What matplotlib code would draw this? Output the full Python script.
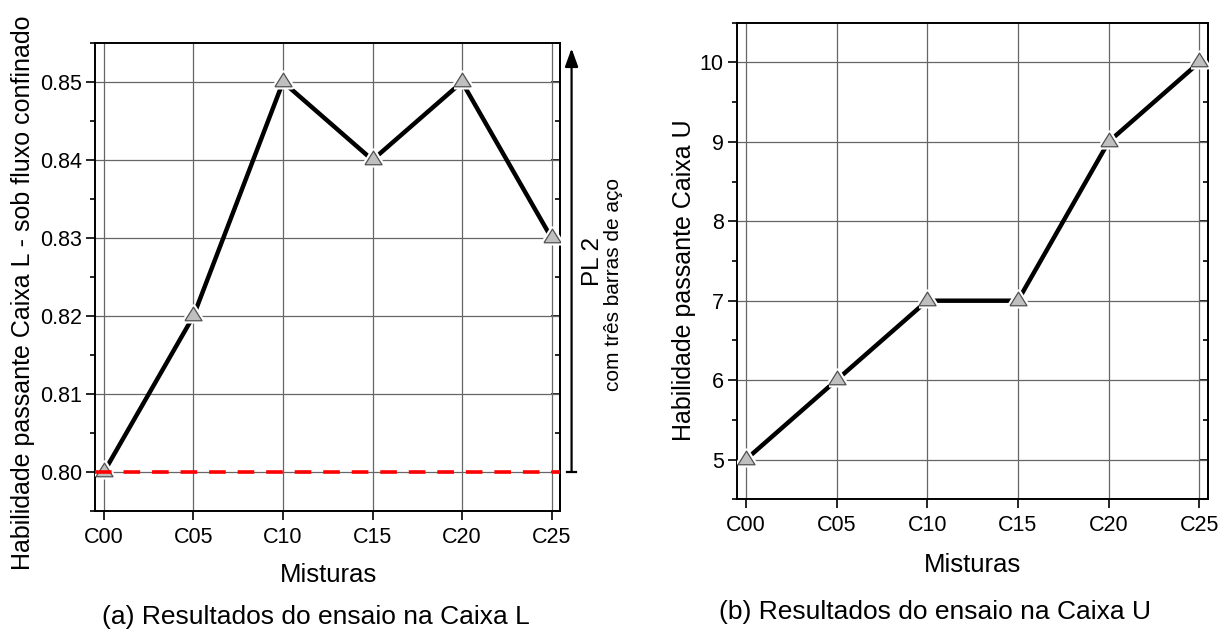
import numpy as np
import matplotlib.pyplot as plt
from matplotlib.ticker import MultipleLocator, FormatStrFormatter
from matplotlib.patches import ArrowStyle

plt.rcParams['font.family'] = ['Liberation Sans', 'DejaVu Sans']

misturas = ['C00', 'C05', 'C10', 'C15', 'C20', 'C25']
caixa_l = [0.80, 0.82, 0.85, 0.84, 0.85, 0.83]
caixa_u = [5, 6, 7, 7, 9, 10]
limite_pl2 = 0.80

x = np.arange(len(misturas))

# triangle a bit flatter than the default '^'
tri = [(-1, -0.5), (1, -0.5), (0, 1.1), (-1, -0.5)]


def style_axes(ax, ylim, major, minor, fmt):
    ax.set_xlim(-0.1, 5.1)
    ax.set_ylim(*ylim)
    ax.set_xticks(x)
    ax.set_xticklabels(misturas)
    ax.yaxis.set_major_locator(MultipleLocator(major))
    ax.yaxis.set_minor_locator(MultipleLocator(minor))
    ax.yaxis.set_major_formatter(FormatStrFormatter(fmt))
    ax.grid(True, which='major', color='0.4', lw=0.9, zorder=1)
    ax.set_axisbelow(True)
    ax.tick_params(axis='both', which='major', direction='out', length=6.5,
                   width=1.2, labelsize=15.5)
    ax.tick_params(axis='y', which='major', pad=3)
    ax.tick_params(axis='x', which='major', pad=5)
    ax.tick_params(axis='y', which='minor', direction='out', length=3.5, width=1.2)
    for s in ax.spines.values():
        s.set_linewidth(1.4)
    # inward ticks on the right edge
    sec = ax.secondary_yaxis('right')
    sec.yaxis.set_major_locator(MultipleLocator(major))
    sec.yaxis.set_minor_locator(MultipleLocator(minor))
    sec.tick_params(which='both', direction='in', labelright=False, width=1.2)
    sec.tick_params(which='major', length=6.5)
    sec.tick_params(which='minor', length=3.5)
    sec.spines['right'].set_linewidth(1.4)


def plot_series(ax, y):
    ax.plot(x, y, color='black', lw=3.2, zorder=3, solid_capstyle='butt')
    ax.plot(x, y, ls='none', marker=tri, ms=13.5, mfc='white', mec='white',
            mew=4, zorder=4)
    ax.plot(x, y, ls='none', marker=tri, ms=13.5, mfc='#bfbfbf', mec='#505050',
            mew=0.9, zorder=5)


fig = plt.figure(figsize=(12.31, 6.35), dpi=100)
ax1 = fig.add_axes([0.0772, 0.1953, 0.3781, 0.737])
ax2 = fig.add_axes([0.5985, 0.2137, 0.3831, 0.7506])

# (a) Caixa L
style_axes(ax1, (0.795, 0.855), 0.01, 0.005, '%.2f')
plot_series(ax1, caixa_l)
ax1.axhline(limite_pl2, color='#ff0000', lw=2.6, ls=(0, (4.6, 3.3)), zorder=6)

# PL 2 bracket arrow on the right side
xa = 5.224
ax1.annotate('', xy=(xa, 0.8543), xytext=(xa, limite_pl2), xycoords='data',
             arrowprops=dict(arrowstyle=ArrowStyle('-|>', head_length=0.55, head_width=0.2),
                             mutation_scale=20, lw=1.6, color='black',
                             shrinkA=0, shrinkB=0),
             annotation_clip=False)
ax1.plot([xa - 0.05, xa + 0.05], [limite_pl2, limite_pl2], color='black', lw=1.6,
         clip_on=False)
ax1.text(5.46, 0.827, 'PL 2', rotation=90, ha='center', va='center', fontsize=17.5)
ax1.text(5.69, 0.824, 'com três barras de aço', rotation=90, ha='center',
         va='center', fontsize=15)

# (b) Caixa U
style_axes(ax2, (4.5, 10.5), 1, 0.5, '%d')
plot_series(ax2, caixa_u)

W, H = 1231, 635
fig.text(23 / W, 1 - 293 / H, 'Habilidade passante Caixa L - sob fluxo confinado',
         rotation=90, ha='center', va='center', fontsize=18)
fig.text(684 / W, 1 - 280 / H, 'Habilidade passante Caixa U',
         rotation=90, ha='center', va='center', fontsize=18)
fig.text(328 / W, 1 - 575 / H, 'Misturas', ha='center', va='center', fontsize=18.5)
fig.text(972 / W, 1 - 565 / H, 'Misturas', ha='center', va='center', fontsize=18.5)
fig.text(316 / W, 1 - 617 / H, '(a) Resultados do ensaio na Caixa L',
         ha='center', va='center', fontsize=19)
fig.text(935 / W, 1 - 612 / H, '(b) Resultados do ensaio na Caixa U',
         ha='center', va='center', fontsize=19)

fig.savefig('out.png', dpi=100)
